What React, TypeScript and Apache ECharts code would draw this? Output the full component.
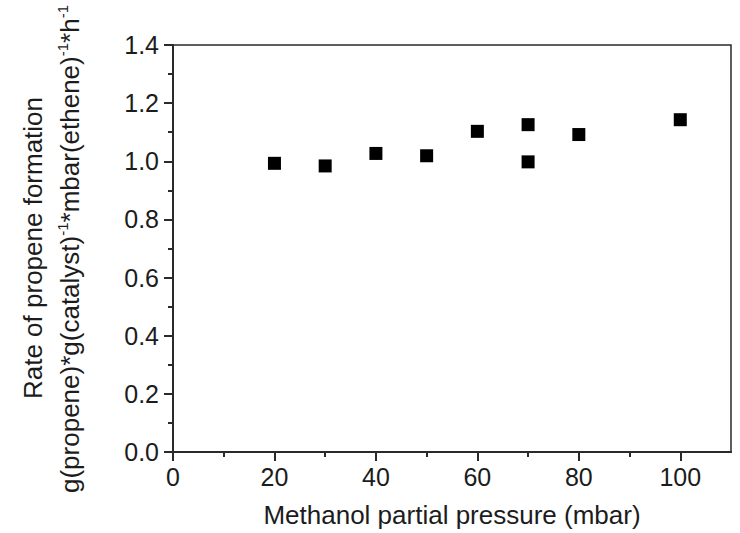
import React, { useEffect, useRef } from "react";
import * as echarts from "echarts";

const pressures = [20, 30, 40, 50, 60, 70, 70, 80, 100];
const rates = [0.993, 0.984, 1.027, 1.019, 1.103, 1.126, 0.998, 1.092, 1.143];
const xMajorTicks = [0, 20, 40, 60, 80, 100];
const xMinorTicks = [10, 30, 50, 70, 90];
const xTitle = "Methanol partial pressure (mbar)";
const yTitle1 = "Rate of propene formation";
const yTitle2 = "g(propene)*g(catalyst){s|-1}*mbar(ethene){s|-1}*h{s|-1}";

const FONT = "'Liberation Sans', Arial, sans-serif";
const TXT = "#1c1c1c";
const AX = "#2a2a2a";

export default function App() {
  const ref = useRef<HTMLDivElement>(null);
  useEffect(() => {
    if (!ref.current) return;
    const chart = echarts.init(ref.current, null, { renderer: "svg" });
    const data = pressures.map((p, i) => [p, rates[i]]);
    chart.setOption({
      animation: false,
      grid: {
        left: 173,
        right: 9,
        top: 45,
        bottom: 79,
        show: true,
        borderColor: AX,
        borderWidth: 1.5,
        backgroundColor: "transparent",
      },
      xAxis: [
        {
          type: "value",
          min: 0,
          max: 110,
          interval: 20,
          position: "bottom",
          name: xTitle,
          nameLocation: "middle",
          nameGap: 50,
          nameTextStyle: { fontSize: 26, fontFamily: FONT, color: TXT },
          axisLine: { show: true, lineStyle: { color: AX, width: 2 } },
          axisTick: { show: true, length: 9, customValues: xMajorTicks, lineStyle: { color: AX, width: 2 } },
          axisLabel: { customValues: xMajorTicks, fontSize: 25, fontFamily: FONT, color: TXT, margin: 12 },
          splitLine: { show: false },
        },
        {
          type: "value",
          min: 0,
          max: 110,
          position: "bottom",
          axisLine: { show: false },
          axisTick: { show: true, length: 5, customValues: xMinorTicks, lineStyle: { color: AX, width: 2 } },
          axisLabel: { show: false },
          splitLine: { show: false },
        },
      ],
      yAxis: {
        type: "value",
        min: 0,
        max: 1.4,
        interval: 0.2,
        axisLine: { show: true, lineStyle: { color: AX, width: 2 } },
        axisTick: { show: true, length: 9, lineStyle: { color: AX, width: 2 } },
        minorTick: { show: true, splitNumber: 2, length: 5, lineStyle: { color: AX, width: 2 } },
        axisLabel: {
          fontSize: 25,
          fontFamily: FONT,
          color: TXT,
          margin: 14,
          formatter: (v: number) => v.toFixed(1),
        },
        splitLine: { show: false },
      },
      graphic: [
        {
          type: "text",
          x: 33,
          y: 248,
          rotation: Math.PI / 2,
          style: {
            text: yTitle1,
            fontSize: 26,
            fontFamily: FONT,
            fill: TXT,
            align: "center",
            verticalAlign: "middle",
          },
        },
        {
          type: "text",
          x: 70,
          y: 249,
          rotation: Math.PI / 2,
          style: {
            text: yTitle2,
            fontSize: 26,
            fontFamily: FONT,
            fill: TXT,
            align: "center",
            verticalAlign: "middle",
            rich: {
              s: { fontSize: 15, fontFamily: FONT, fill: TXT, verticalAlign: "top", lineHeight: 30, padding: [0, 0, 12, 0] },
            },
          },
        },
      ],
      series: [
        {
          type: "scatter",
          xAxisIndex: 0,
          data,
          symbol: "rect",
          symbolSize: 13,
          itemStyle: { color: "#000", opacity: 1 },
        },
      ],
    });
    return () => chart.dispose();
  }, []);
  return (
    <div
      ref={ref}
      style={{ position: "absolute", left: 0, top: 0, width: 740, height: 533 }}
    />
  );
}
